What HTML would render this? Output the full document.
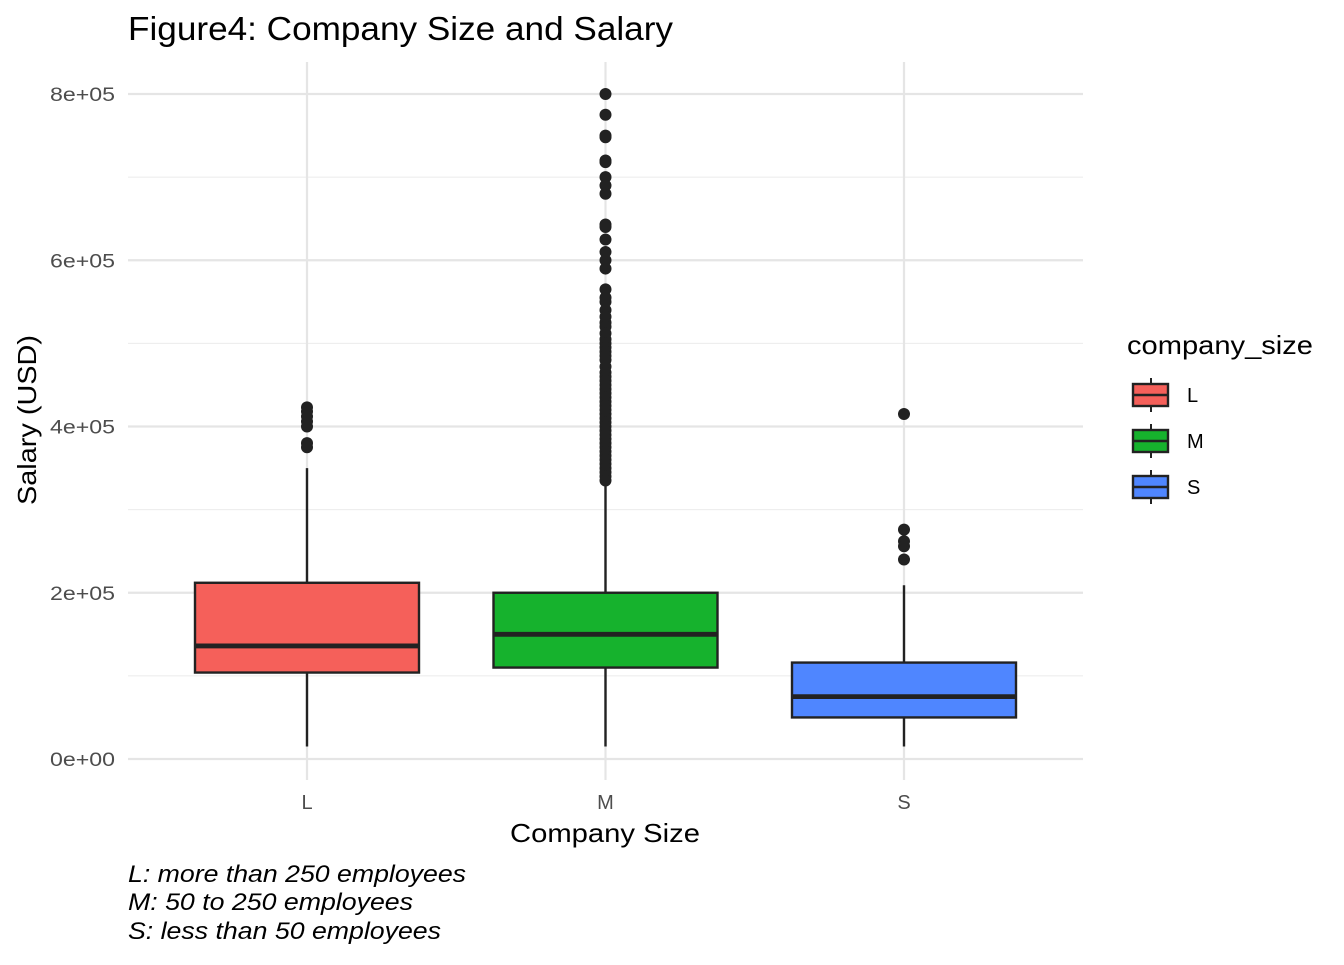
<!DOCTYPE html>
<html><head><meta charset="utf-8"><style>
body{margin:0;background:#fff;font-family:"Liberation Sans",sans-serif;}
</style></head><body>
<svg width="1344" height="960" xmlns="http://www.w3.org/2000/svg" font-family="Liberation Sans, sans-serif">
<text x="128" y="40" font-size="33" fill="#000" textLength="545" lengthAdjust="spacingAndGlyphs">Figure4: Company Size and Salary</text>
<g id="grid"></g>
<g id="boxes"></g>
<g id="ylabels" font-size="19" fill="#4d4d4d" text-anchor="end"></g>
<g id="xlabels" font-size="20" fill="#4d4d4d" text-anchor="middle"></g>
<text x="510" y="842" font-size="26" textLength="190" lengthAdjust="spacingAndGlyphs">Company Size</text>
<text transform="translate(36,505) rotate(-90)" font-size="26" textLength="170" lengthAdjust="spacingAndGlyphs">Salary (USD)</text>
<g>
<text x="1127" y="354" font-size="26" textLength="186" lengthAdjust="spacingAndGlyphs">company_size</text>
<g id="legend"></g>
</g>
<g font-size="24" font-style="italic">
<text x="128" y="882" textLength="338" lengthAdjust="spacingAndGlyphs">L: more than 250 employees</text>
<text x="128" y="910" textLength="285" lengthAdjust="spacingAndGlyphs">M: 50 to 250 employees</text>
<text x="128" y="939" textLength="313" lengthAdjust="spacingAndGlyphs">S: less than 50 employees</text>
</g>
</svg>
<script>
const categories=["L","M","S"];
const fills=["#F5605A","#16B22D","#4F86FF"];
const whiskerLow=[15000,15000,15000];
const q1=[104000,110000,50000];
const median=[136000,150000,75000];
const q3=[212000,200000,116000];
const whiskerHigh=[350000,335000,209000];
const outliers=[
 [423000,418000,412000,406000,400000,380000,375000],
 [800000,775000,750000,748000,720000,718000,700000,690000,680000,643000,640000,625000,610000,600000,590000,565000,555000,550000,540000,532000,525000,520000,512000,505000,500000,495000,490000,485000,480000,472000,465000,460000,455000,450000,445000,440000,435000,430000,425000,420000,415000,410000,405000,400000,395000,390000,385000,380000,375000,370000,365000,360000,355000,350000,345000,340000,335000],
 [415000,276000,262000,256000,240000]
];
const yTicks=[0,200000,400000,600000,800000];
const yTickLabels=["0e+00","2e+05","4e+05","6e+05","8e+05"];
const NS="http://www.w3.org/2000/svg";
const y=v=>759-v/200000*166.25;
const x=i=>307+i*298.5;
const bw=224;
function mk(t,a,p){const e=document.createElementNS(NS,t);for(const k in a)e.setAttribute(k,a[k]);p.appendChild(e);return e;}
const grid=document.getElementById('grid');
for(let i=0;i<yTicks.length;i++){
 const l=mk('line',{x1:128,x2:1083,y1:y(yTicks[i]),y2:y(yTicks[i]),stroke:'#e5e5e5','stroke-width':2.2},grid);
 
 
 if(i<yTicks.length-1){const m=mk('line',{x1:128,x2:1083,y1:y((yTicks[i]+yTicks[i+1])/2),y2:y((yTicks[i]+yTicks[i+1])/2),stroke:'#ebebeb','stroke-width':1.1},grid);
 
 }
 const t=mk('text',{x:115,y:y(yTicks[i])+7,textLength:65,lengthAdjust:'spacingAndGlyphs'},document.getElementById('ylabels'));t.textContent=yTickLabels[i];
 
 
}
const bx=document.getElementById('boxes');
categories.forEach((c,i)=>{
 const g=mk('line',{x1:x(i),x2:x(i),y1:62,y2:780,stroke:'#e5e5e5','stroke-width':2.2},grid);
 
 
 const grp=mk('g',{},bx);
 
 
 mk('line',{x1:x(i),x2:x(i),y1:y(whiskerLow[i]),y2:y(whiskerHigh[i]),stroke:'#222','stroke-width':2.4},grp);
 mk('rect',{x:x(i)-bw/2,y:y(q3[i]),width:bw,height:y(q1[i])-y(q3[i]),fill:fills[i],stroke:'#222','stroke-width':2.4},grp);
 mk('line',{x1:x(i)-bw/2,x2:x(i)+bw/2,y1:y(median[i]),y2:y(median[i]),stroke:'#222','stroke-width':4.8},grp);
 outliers[i].forEach(v=>{const p=mk('circle',{cx:x(i),cy:y(v),r:6,fill:'#222'},grp);
 
 });
 const t=mk('text',{x:x(i),y:809},document.getElementById('xlabels'));t.textContent=c;
 
 
 const lg=mk('g',{},document.getElementById('legend'));
 
 
 const ly=395+i*46;
 mk('line',{x1:1151,x2:1151,y1:ly-17,y2:ly+17,stroke:'#222','stroke-width':2},lg);
 mk('rect',{x:1133,y:ly-11,width:35,height:22,fill:fills[i],stroke:'#222','stroke-width':2.4},lg);
 mk('line',{x1:1133,x2:1168,y1:ly,y2:ly,stroke:'#222','stroke-width':2.4},lg);
 const lt=mk('text',{x:1187,y:ly+7,'font-size':20},lg);lt.textContent=c;
});
</script>
</body></html>
